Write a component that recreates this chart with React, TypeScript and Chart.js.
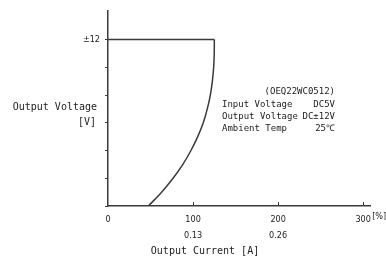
import React, { useEffect, useRef } from "react";
import { Chart, registerables } from "chart.js";

Chart.register(...registerables);

const flatCurrent = [0, 125];
const flatVoltage = [12, 12];
const curveCurrent = [47.5, 63, 76.5, 88, 97.5, 105.5, 112, 116.7, 120.3, 122.7, 124.2, 124.9, 125];
const curveVoltage = [0, 1, 2, 3, 4, 5, 6, 7, 8, 9, 10, 11, 12];
const xTickValues = [0, 100, 200, 300];
const xTickLabels = [["0", ""], ["100", "0.13"], ["200", "0.26"], ["300", ""]];
const yTickValues = [0, 2, 4, 6, 8, 10, 12];
const infoTitle = "(OEQ22WC0512)";
const infoRows = [
  ["Input Voltage", "DC5V"],
  ["Output Voltage", "DC±12V"],
  ["Ambient Temp", "25℃"],
];

const INK = "#3a3a3a";
const MONO = "'DejaVu Sans Mono', monospace";
const NUM = "'DejaVu Sans Condensed', 'DejaVu Sans', sans-serif";

const textPlugin = {
  id: "texts",
  afterDraw(chart: any) {
    const ctx = chart.ctx;
    const xs = chart.scales.x;
    const ys = chart.scales.y;
    ctx.save();
    ctx.strokeStyle = INK;
    ctx.lineWidth = 1;
    const bottom = ys.getPixelForValue(0);
    xTickValues.forEach((v) => {
      if (v === 0) return;
      const px = Math.round(xs.getPixelForValue(v)) + 0.5;
      ctx.beginPath();
      ctx.moveTo(px, bottom);
      ctx.lineTo(px, bottom - 4);
      ctx.stroke();
    });
    ctx.fillStyle = "#222";
    ctx.font = `10px ${MONO}`;
    ctx.textBaseline = "middle";
    ctx.textAlign = "right";
    ctx.fillText("Output Voltage", 97, 107);
    ctx.fillText("[V]", 96, 122);
    ctx.textAlign = "center";
    ctx.fillText("Output Current [A]", 205, 251);
    ctx.textAlign = "left";
    ctx.font = `9px ${NUM}`;
    ctx.fillText("[%]", xs.getPixelForValue(300) + 9, 217);
    ctx.font = `9px ${MONO}`;
    ctx.textAlign = "right";
    ctx.fillText(infoTitle, 335, 92);
    const rowsY = [105, 117, 129];
    infoRows.forEach((r, i) => {
      ctx.textAlign = "left";
      ctx.fillText(r[0], 222, rowsY[i]);
      ctx.textAlign = "right";
      ctx.fillText(r[1], 335, rowsY[i]);
    });
    ctx.restore();
  },
};

export default function App() {
  const ref = useRef<HTMLCanvasElement>(null);
  useEffect(() => {
    document.body.style.margin = "0";
    const flat = flatCurrent.map((x, i) => ({ x, y: flatVoltage[i] }));
    const curve = curveCurrent.map((x, i) => ({ x, y: curveVoltage[i] }));
    const chart = new Chart(ref.current as HTMLCanvasElement, {
      type: "scatter",
      data: {
        datasets: [
          { data: flat, showLine: true, borderColor: INK, borderWidth: 1.5, pointRadius: 0, tension: 0 },
          {
            data: curve,
            showLine: true,
            borderColor: INK,
            borderWidth: 1.5,
            pointRadius: 0,
            indexAxis: "y",
            cubicInterpolationMode: "monotone",
          },
        ],
      },
      options: {
        animation: false,
        responsive: false,
        maintainAspectRatio: false,
        layout: { padding: { left: 0, top: 7, right: 16, bottom: 0 } },
        plugins: { legend: { display: false }, tooltip: { enabled: false } },
        scales: {
          x: {
            type: "linear",
            min: 0,
            max: 308,
            afterBuildTicks: (s: any) => {
              s.ticks = xTickValues.map((v) => ({ value: v }));
            },
            afterFit: (s: any) => {
              s.height = 56;
            },
            grid: { display: true, drawOnChartArea: false, drawTicks: false },
            border: { display: true, color: INK, width: 1.5 },
            ticks: {
              color: "#222",
              font: { family: NUM, size: 9, lineHeight: 1.75 },
              padding: 6,
              maxRotation: 0,
              autoSkip: false,
              callback: (v: any) => {
                const i = xTickValues.indexOf(Number(v));
                return i >= 0 ? xTickLabels[i] : "";
              },
            },
          },
          y: {
            type: "linear",
            min: 0,
            max: 14.1,
            afterBuildTicks: (s: any) => {
              s.ticks = yTickValues.map((v) => ({ value: v }));
            },
            afterFit: (s: any) => {
              s.width = 108;
            },
            grid: { display: true, drawOnChartArea: false, drawTicks: true, tickLength: 3, color: INK },
            border: { display: true, color: INK, width: 1.5 },
            ticks: {
              color: "#222",
              font: { family: NUM, size: 9 },
              padding: 5,
              autoSkip: false,
              callback: (v: any) => (Number(v) === 12 ? "±12" : ""),
            },
          },
        },
      },
      plugins: [textPlugin],
    } as any);
    return () => chart.destroy();
  }, []);
  return (
    <div style={{ width: 386, height: 262 }}>
      <canvas ref={ref} width={386} height={262} style={{ display: "block" }} />
    </div>
  );
}
